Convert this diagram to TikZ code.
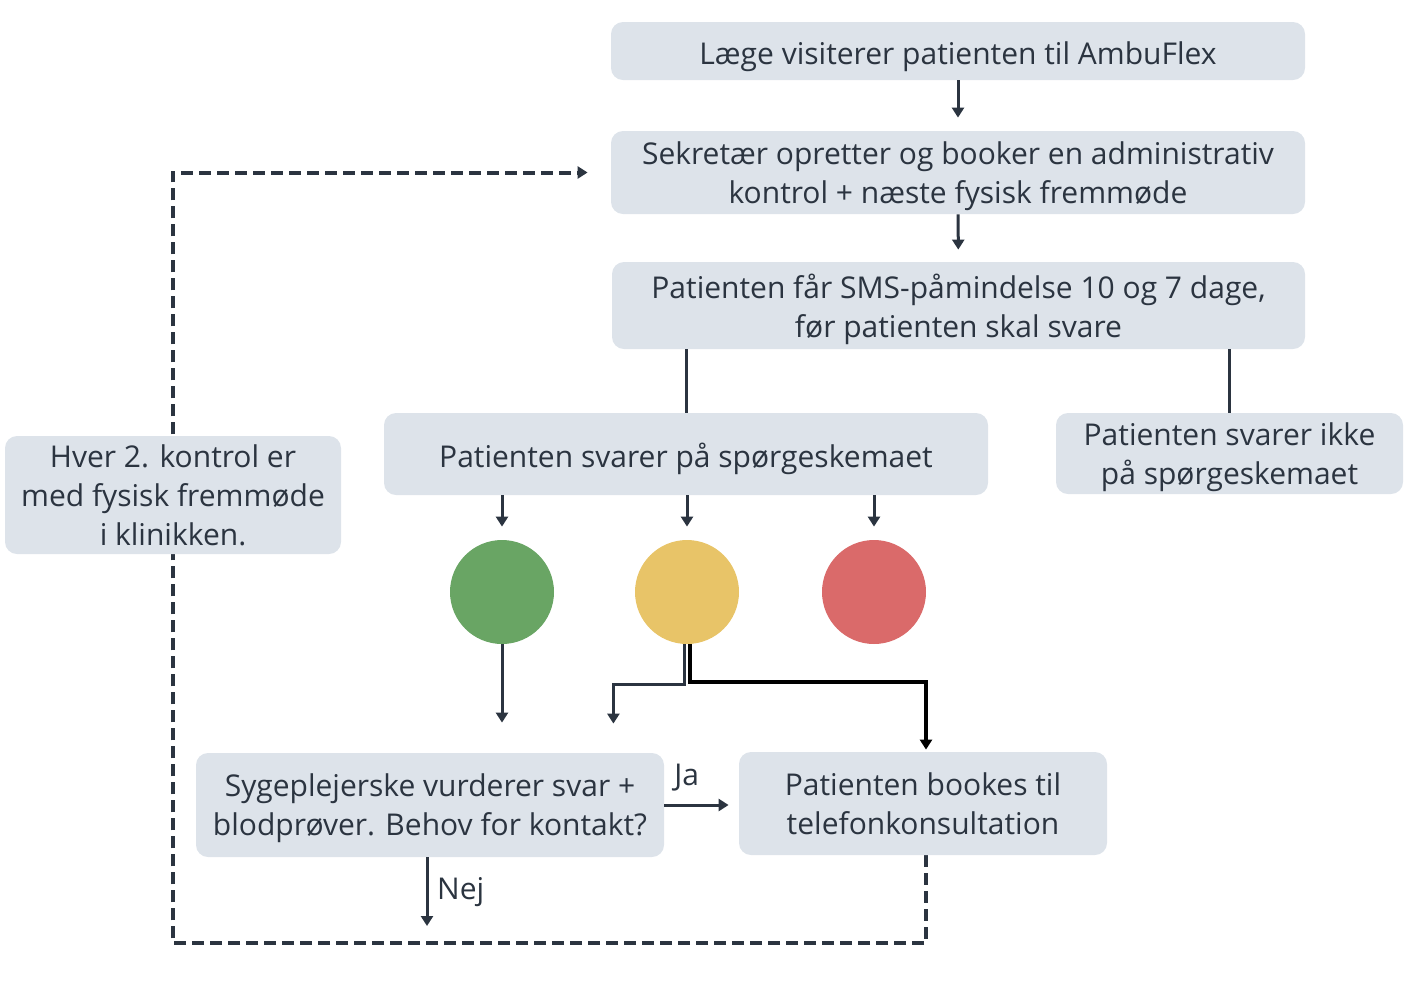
\documentclass[tikz,border=0pt]{standalone}
\usepackage{fontspec}
\setmainfont{Open Sans}
\usetikzlibrary{arrows.meta,backgrounds}

\definecolor{boxfill}{HTML}{DDE3EA}
\definecolor{ink}{HTML}{2B3440}
\definecolor{gron}{HTML}{69A564}
\definecolor{gul}{HTML}{E8C468}
\definecolor{rod}{HTML}{DA6A6A}

\tikzset{
  stepbox/.style={rectangle, rounded corners=6pt, fill=boxfill, text=ink, align=center,
    inner sep=0pt, font=\fontsize{15}{19.5}\selectfont,
    execute at begin node=\strut, text depth=-0.5pt},
  lamp/.style={circle, minimum size=52pt, inner sep=0pt},
  pil/.style={draw=ink, line width=1.5pt, -{Triangle[length=5pt,width=6pt]}},
  retur/.style={draw=ink, line width=2pt, dash pattern=on 6pt off 3pt,
    -{Triangle[length=5pt,width=6pt]}},
}

\begin{document}
\begin{tikzpicture}[x=0.5pt,y=-0.5pt]
  \useasboundingbox (0,0) rectangle (1420,992);

  \node [stepbox, minimum width=347pt, minimum height=29pt] (lage) at (958,51)
    {Læge visiterer patienten til AmbuFlex};
  \node [stepbox, minimum width=347pt, minimum height=41.5pt] (sek) at (958,172.5)
    {Sekretær opretter og booker en administrativ\\kontrol + næste fysisk fremmøde};
  \node [stepbox, minimum width=346.5pt, minimum height=43.5pt] (sms) at (958.5,305.5)
    {Patienten får SMS-påmindelse 10 og 7 dage,\\før patienten skal svare};
  \node [stepbox, minimum width=302pt, minimum height=41pt] (svar) at (686,454)
    {Patienten svarer på spørgeskemaet};
  \node [stepbox, minimum width=173.5pt, minimum height=40.5pt] (ikke) at (1229.5,453.5)
    {Patienten svarer ikke\\på spørgeskemaet};
  \node [stepbox, minimum width=168pt, minimum height=59pt] (hver) at (173,495)
    {Hver 2. kontrol er\\med fysisk fremmøde\\i klinikken.};
  \node [stepbox, minimum width=234pt, minimum height=52pt] (syg) at (430,805)
    {Sygeplejerske vurderer svar +\\blodprøver. Behov for kontakt?};
  \node [stepbox, minimum width=184pt, minimum height=51.5pt] (tlf) at (923,803.5)
    {Patienten bookes til\\telefonkonsultation};

  \node [lamp, fill=gron] (gron) at (502,592) {};
  \node [lamp, fill=gul] (gul) at (687,592) {};
  \node [lamp, fill=rod] (rod) at (874,592) {};
  \coordinate (nej) at (427,926);

  % trin nedad
  \draw [pil, shorten >=6.5pt] (lage) -- (sek);
  \draw [pil, shorten >=6pt] (sek) -- (sms);
  \draw [ink, line width=1.5pt] (sms.south -| svar) -- (svar);
  \draw [ink, line width=1.5pt] (sms.south -| ikke) -- (ikke);
  \foreach \c in {gron,gul,rod}
    \draw [pil, shorten >=6.5pt] (svar.south -| \c) -- (\c);

  % fra lamperne
  \draw [pil, shorten >=15pt] (gron) -- (gron |- syg.north);
  \draw [pil, shorten >=14.5pt] ([xshift=-1.5pt]gul.south) -- ++(0,40)
    -| ([xshift=-25.5pt]syg.north east);
  \draw [pil, draw=black, line width=2pt, shorten >=1pt] ([xshift=1.5pt]gul.south)
    -- ++(0,38) -| ([xshift=1.5pt]tlf.north);

  % ja / nej
  \draw [pil, shorten >=5pt] (syg.east) -- (syg.east -| tlf.west)
    node [pos=0.3, above=3pt, text=ink, font=\fontsize{15}{19.5}\selectfont] {Ja};
  \draw [pil] (syg.south -| nej) -- (nej)
    node [midway, right=1pt, text=ink, font=\fontsize{15}{19.5}\selectfont] {Nej};

  % retur
  \begin{scope}[on background layer]
    \draw [retur, shorten >=11.5pt] ([xshift=1.5pt]tlf.south) -- ++(0,88)
      -| (hver.center) |- (sek);
  \end{scope}
\end{tikzpicture}
\end{document}
